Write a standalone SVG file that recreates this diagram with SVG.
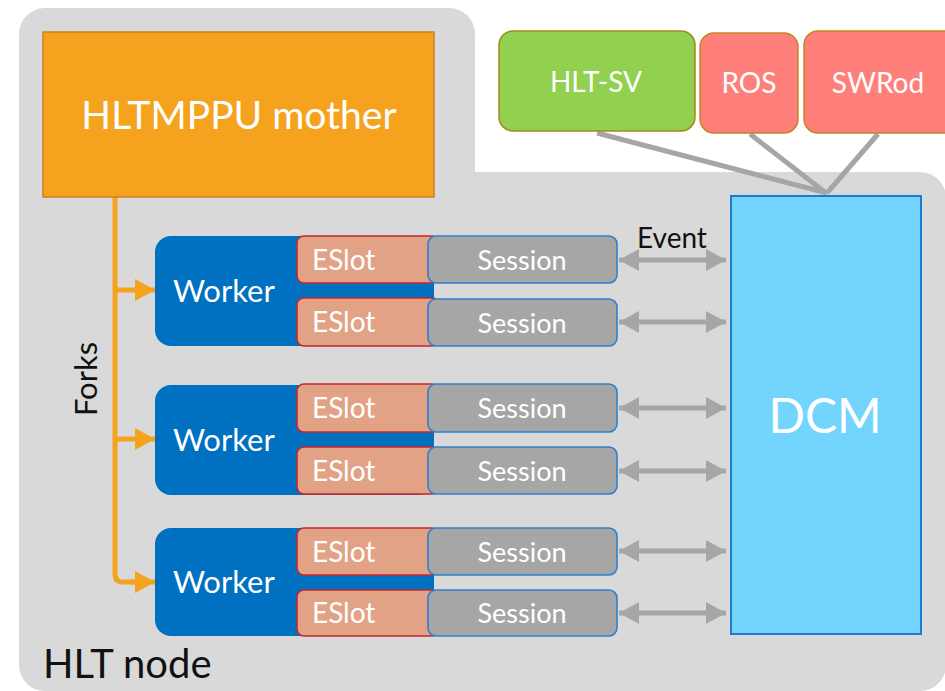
<svg xmlns="http://www.w3.org/2000/svg" width="945" height="691" viewBox="0 0 945 691">
  <style>
    text { font-family: Lato, "Open Sans", "Liberation Sans", sans-serif; }
    .white { fill: #ffffff; }
    .black { fill: #111111; }
    .worker { fill: #0070C0; }
    .eslot { fill: #E2A285; stroke: #C9262B; stroke-width: 1.6; }
    .session { fill: #A6A6A6; stroke: #2F7FD0; stroke-width: 1.6; }
    .link { stroke: #A6A6A6; stroke-width: 5; fill: none; }
    .event { stroke: #A6A6A6; stroke-width: 5; fill: none; marker-start: url(#grayHead); marker-end: url(#grayHead); }
    .fork { stroke: #F5A31F; stroke-width: 5; fill: none; }
    .forkArrow { stroke: #F5A31F; stroke-width: 5; fill: none; marker-end: url(#orangeHead); }
    .slotText { font-size: 28px; }
    .sessText { font-size: 27px; text-anchor: middle; }
    .workerText { font-size: 31px; }
  </style>
  <defs>
    <marker id="grayHead" markerUnits="userSpaceOnUse" markerWidth="22" markerHeight="24" refX="20" refY="12" orient="auto-start-reverse">
      <path d="M0,1 L20,12 L0,23 Z" fill="#A6A6A6"/>
    </marker>
    <marker id="orangeHead" markerUnits="userSpaceOnUse" markerWidth="22" markerHeight="24" refX="20" refY="12" orient="auto">
      <path d="M0,1 L20,12 L0,23 Z" fill="#F5A31F"/>
    </marker>
  </defs>

  <!-- HLT node enclosure -->
  <g id="hlt-node">
    <path d="M45,8 H449 A26,26 0 0 1 475,34 V172 H920 A26,26 0 0 1 946,198 V665 A26,26 0 0 1 920,691 H45 A26,26 0 0 1 19,665 V34 A26,26 0 0 1 45,8 Z" fill="#D9D9D9"/>
    <text x="43" y="678" class="black" font-size="40">HLT node</text>
  </g>

  <!-- connectors -->
  <g id="connectors">
    <line class="link" x1="597" y1="133" x2="827" y2="193"/>
    <line class="link" x1="750" y1="134" x2="826" y2="193"/>
    <line class="link" x1="878" y1="134" x2="827" y2="193"/>

    <path class="fork" d="M115,197 V574 Q115,582 123,582 H136"/>
    <line class="forkArrow" x1="115" y1="290" x2="155" y2="290"/>
    <line class="forkArrow" x1="115" y1="439" x2="155" y2="439"/>
    <line class="forkArrow" x1="130" y1="582" x2="155" y2="582"/>

    <line class="event" x1="619" y1="260" x2="726" y2="260"/>
    <line class="event" x1="619" y1="322" x2="726" y2="322"/>
    <line class="event" x1="619" y1="408" x2="726" y2="408"/>
    <line class="event" x1="619" y1="471" x2="726" y2="471"/>
    <line class="event" x1="619" y1="551" x2="726" y2="551"/>
    <line class="event" x1="619" y1="613" x2="726" y2="613"/>
    <text x="672" y="248" class="black" font-size="28" text-anchor="middle">Event</text>
    <text transform="translate(97,379) rotate(-90)" class="black" font-size="31" text-anchor="middle">Forks</text>
  </g>

  <!-- mother process -->
  <g id="mother">
    <rect x="43" y="32" width="391" height="165" fill="#F5A31F" stroke="#C8841D" stroke-width="1.5"/>
    <text x="239" y="129" class="white" font-size="39" text-anchor="middle">HLTMPPU mother</text>
  </g>

  <!-- external services -->
  <g id="hlt-sv">
    <rect x="499" y="31" width="196" height="100" rx="14" fill="#92D050" stroke="#A08A1A" stroke-width="1.5"/>
    <text x="596" y="92" class="white" font-size="28" text-anchor="middle">HLT-SV</text>
  </g>
  <g id="ros">
    <rect x="700" y="33" width="98" height="100" rx="14" fill="#FF7F7B" stroke="#C8841F" stroke-width="1.5"/>
    <text x="749" y="93" class="white" font-size="28" text-anchor="middle">ROS</text>
  </g>
  <g id="swrod">
    <rect x="804" y="31" width="160" height="102" rx="14" fill="#FF7F7B" stroke="#C8841F" stroke-width="1.5"/>
    <text x="878" y="93" class="white" font-size="28" text-anchor="middle">SWRod</text>
  </g>

  <!-- DCM -->
  <g id="dcm">
    <rect x="731" y="196" width="190" height="438" fill="#73D4FE" stroke="#1C7BD0" stroke-width="2"/>
    <text x="825" y="433" class="white" font-size="48" text-anchor="middle">DCM</text>
  </g>

  <!-- worker 1 -->
  <g id="worker-1">
    <rect class="worker" x="155" y="236" width="279" height="110" rx="16"/>
    <text x="173" y="302" class="white workerText">Worker</text>
    <rect class="eslot" x="297" y="236" width="142" height="47" rx="7"/>
    <text x="312" y="270" class="white slotText">ESlot</text>
    <rect class="session" x="428" y="236" width="189" height="47" rx="8"/>
    <text x="522" y="270" class="white sessText">Session</text>
    <rect class="eslot" x="297" y="298" width="142" height="48" rx="7"/>
    <text x="312" y="332" class="white slotText">ESlot</text>
    <rect class="session" x="428" y="299" width="189" height="47" rx="8"/>
    <text x="522" y="333" class="white sessText">Session</text>
  </g>

  <!-- worker 2 -->
  <g id="worker-2">
    <rect class="worker" x="155" y="385" width="279" height="110" rx="16"/>
    <text x="173" y="451" class="white workerText">Worker</text>
    <rect class="eslot" x="297" y="384" width="142" height="48" rx="7"/>
    <text x="312" y="418" class="white slotText">ESlot</text>
    <rect class="session" x="428" y="384" width="189" height="48" rx="8"/>
    <text x="522" y="418" class="white sessText">Session</text>
    <rect class="eslot" x="297" y="447" width="142" height="47" rx="7"/>
    <text x="312" y="481" class="white slotText">ESlot</text>
    <rect class="session" x="428" y="447" width="189" height="47" rx="8"/>
    <text x="522" y="481" class="white sessText">Session</text>
  </g>

  <!-- worker 3 -->
  <g id="worker-3">
    <rect class="worker" x="155" y="528" width="279" height="108" rx="16"/>
    <text x="173" y="593" class="white workerText">Worker</text>
    <rect class="eslot" x="297" y="528" width="142" height="47" rx="7"/>
    <text x="312" y="562" class="white slotText">ESlot</text>
    <rect class="session" x="428" y="528" width="189" height="47" rx="8"/>
    <text x="522" y="562" class="white sessText">Session</text>
    <rect class="eslot" x="297" y="590" width="142" height="46" rx="7"/>
    <text x="312" y="623" class="white slotText">ESlot</text>
    <rect class="session" x="428" y="590" width="189" height="46" rx="8"/>
    <text x="522" y="623" class="white sessText">Session</text>
  </g>
</svg>
